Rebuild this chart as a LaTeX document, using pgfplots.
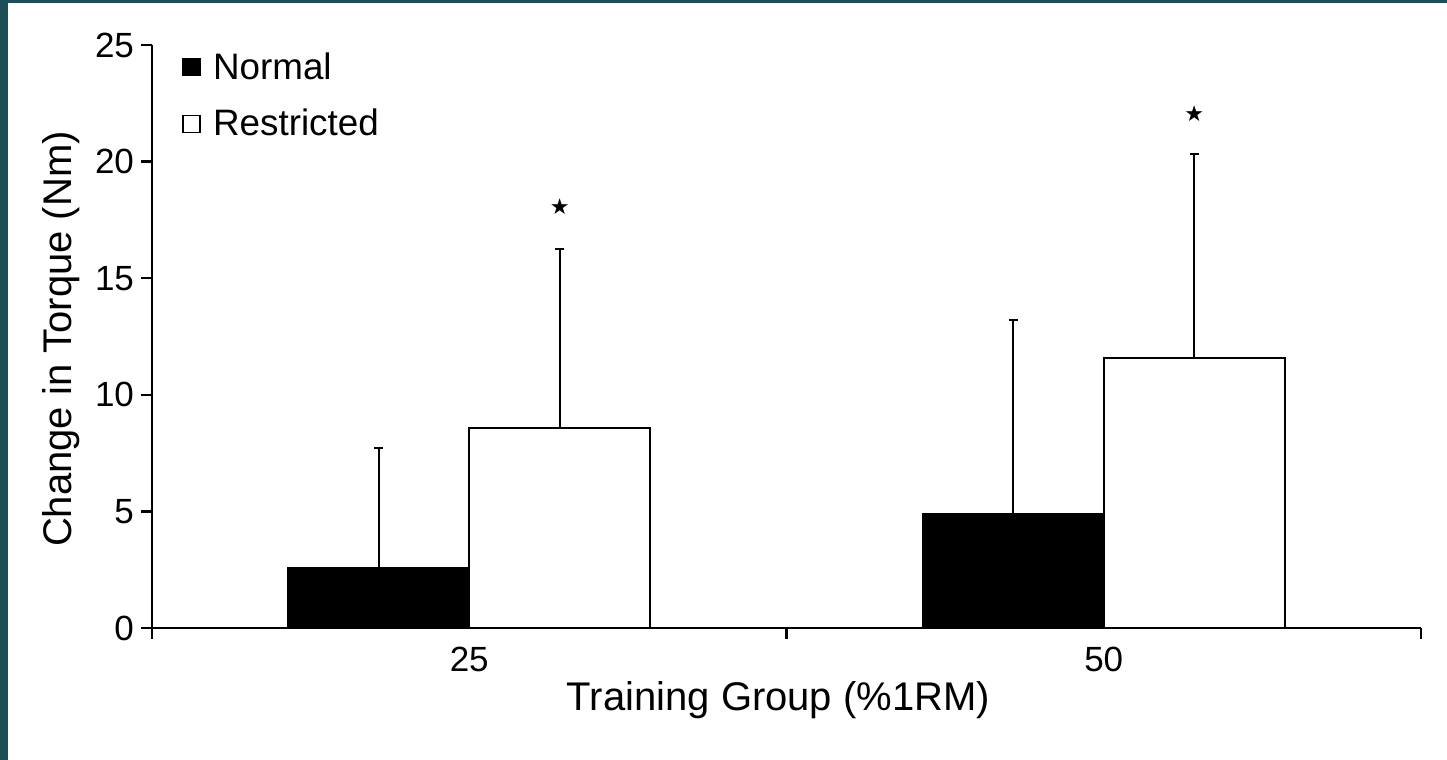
\documentclass[border=0pt]{standalone}
\usepackage{fontspec}
\setmainfont{Liberation Sans}
\newfontfamily\dejavu{DejaVu Sans}
\usepackage{pgfplots}
\pgfplotsset{compat=1.18}
\definecolor{framecol}{RGB}{28,78,88}
\pgfplotsset{sqlegend/.style={legend image code/.code={\draw[##1] (0pt,-4.25pt) rectangle (8.5pt,4.25pt);\path[draw=none,fill=none] (0pt,0pt) -- (13pt,0pt);}}}
\begin{document}
\begin{tikzpicture}
\fill[framecol] (0,0) rectangle (723.5pt,380pt);
\fill[white] (4pt,0) rectangle (723.5pt,378.5pt);
\begin{axis}[
  at={(76pt,66pt)}, anchor=south west,
  scale only axis, width=634.5pt, height=291.5pt,
  xmin=-0.5, xmax=1.5, ymin=0, ymax=25,
  axis x line=bottom, axis y line=left,
  axis line style={-, line width=1.4pt, black},
  tick align=outside,
  major tick length=5.5pt,
  tick style={line width=1.2pt, black},
  xtick={-0.5,0.5,1.5}, xticklabels={,,},
  extra x ticks={0,1}, extra x tick labels={25,50},
  extra x tick style={major tick length=0pt, xticklabel style={yshift=-6pt}},
  ytick={0,5,10,15,20,25},
  /pgf/number format/assume math mode=true,
  tick label style={font=\fontsize{17.5}{21}\selectfont},
  xlabel={Training Group (\%1RM)},
  ylabel={Change in Torque (Nm)},
  label style={font=\fontsize{20}{24}\selectfont},
  xlabel style={at={(axis description cs:0.4937,0)}, anchor=north, yshift=-23.3pt},
  ylabel style={at={(axis description cs:-0.051,0.4957)}, anchor=south},
  legend style={at={(axis description cs:0,1)}, anchor=north west, xshift=12pt, yshift=0.5pt,
    draw=none, fill=none, font=\fontsize{18.4}{22}\selectfont, row sep=9.5pt},
  legend cell align=left,
  clip=false,
]
\addlegendimage{sqlegend, black, fill=black, line width=0.7pt}
\addlegendentry{Normal}
\addlegendimage{sqlegend, black, fill=white, line width=0.7pt}
\addlegendentry{Restricted}

\addplot[ybar, bar width=0.2853, bar shift=0pt, fill=black, draw=black, line width=1pt, forget plot,
  error bars/.cd, y dir=plus, y explicit, error mark=-,
  error bar style={line width=0.8pt, black},
  error mark options={rotate=90, line width=0.8pt, mark size=2.2pt, black}]
  coordinates {(-0.1427,2.59) +- (0,5.14) (0.8573,4.89) +- (0,8.32)};
\addplot[ybar, bar width=0.2853, bar shift=0pt, fill=white, draw=black, line width=1pt, forget plot,
  error bars/.cd, y dir=plus, y explicit, error mark=-,
  error bar style={line width=0.8pt, black},
  error mark options={rotate=90, line width=0.8pt, mark size=2.2pt, black}]
  coordinates {(0.1427,8.56) +- (0,7.68) (1.1427,11.57) +- (0,8.76)};
\addplot[draw=none, mark=none, forget plot, nodes near coords, point meta=explicit symbolic,
  every node near coord/.append style={anchor=center, inner sep=0pt, font=\dejavu\fontsize{11}{12}\selectfont}]
  coordinates {(0.1427,18.07) [★] (1.1427,22.07) [★]};
\end{axis}
\end{tikzpicture}
\end{document}
